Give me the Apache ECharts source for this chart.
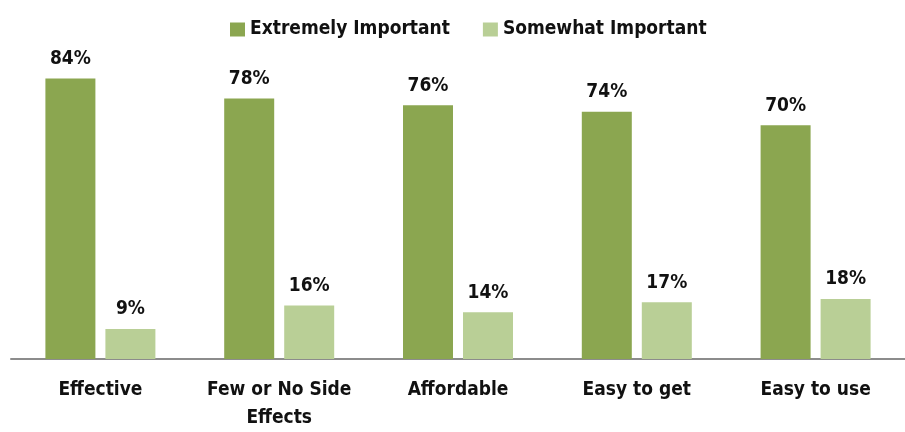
<!DOCTYPE html>
<html><head><meta charset="utf-8">
<script src="https://cdn.jsdelivr.net/npm/echarts@6/dist/echarts.min.js"></script>
<style>html,body{margin:0;padding:0;background:#fff}#c{width:905px;height:432px}</style>
</head><body><div id="c"></div>
<script>
const categories = ['Effective', 'Few or No Side\nEffects', 'Affordable', 'Easy to get', 'Easy to use'];
const extremely = [84, 78, 76, 74, 70];
const somewhat = [9, 16, 14, 17, 18];
const seriesNames = ['Extremely Important', 'Somewhat Important'];
const FONT = '"Liberation Sans Narrow", "DejaVu Sans Condensed", sans-serif';
const chart = echarts.init(document.getElementById('c'));
const lbl = {show:true, position:'top', distance:10, formatter:'{c}%', color:'#111', fontFamily:FONT, fontWeight:'bold', fontSize:19};
chart.setOption({
  animation:false,
  legend:{top:15, left:225, itemWidth:15, itemHeight:14, itemGap:33, icon:'rect',
    textStyle:{fontFamily:FONT, fontWeight:'bold', fontSize:19, color:'#111'}},
  grid:{left:11, width:906, top:25, bottom:68},
  xAxis:{type:'category', data:categories,
    axisLine:{lineStyle:{color:'#8c8c8c', width:2}}, axisTick:{show:false},
    axisLabel:{interval:0, margin:17, color:'#111', fontFamily:FONT, fontWeight:'bold', fontSize:19, lineHeight:28}},
  yAxis:{type:'value', min:0, max:100, show:false, splitLine:{show:false}},
  series:[
    {name:seriesNames[0], type:'bar', data:extremely, barWidth:50, barGap:'20%', itemStyle:{color:'#8BA650'}, label:lbl},
    {name:seriesNames[1], type:'bar', data:somewhat, barWidth:50, itemStyle:{color:'#B9CF96'}, label:lbl}
  ]
});
</script></body></html>
